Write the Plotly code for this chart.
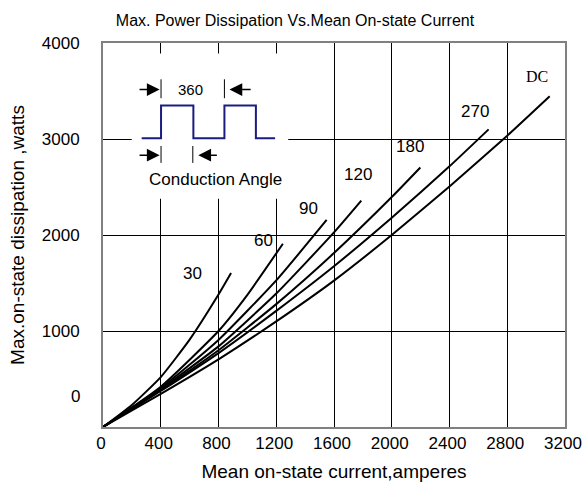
import plotly.graph_objects as go

# ---------------- data ----------------
curve_labels = ["30", "60", "90", "120", "180", "270", "DC"]

current_30 = [0, 200, 400, 600, 800, 887]
power_30 = [0, 230, 520, 910, 1380, 1604]

current_60 = [0, 400, 800, 1000, 1246]
power_60 = [0, 420, 1000, 1377, 1909]

current_90 = [0, 400, 800, 1200, 1549]
power_90 = [0, 405, 907, 1527, 2157]

current_120 = [0, 400, 800, 1200, 1600, 1789]
power_120 = [0, 395, 840, 1390, 2027, 2358]

current_180 = [0, 400, 800, 1200, 1600, 2000, 2198]
power_180 = [0, 385, 800, 1280, 1812, 2395, 2703]

current_270 = [0, 400, 800, 1200, 1600, 2000, 2400, 2671]
power_270 = [0, 375, 770, 1210, 1675, 2180, 2715, 3100]

current_dc = [0, 400, 800, 1200, 1600, 2000, 2400, 2800, 3094]
power_dc = [0, 345, 705, 1100, 1525, 2000, 2505, 3035, 3446]

label_current = [617, 1109, 1421, 1766, 2128, 2579, 3006]
label_power = [1600, 1943, 2275, 2627, 2917, 3283, 3653]

x_ticks = [0, 400, 800, 1200, 1600, 2000, 2400, 2800, 3200]
y_ticks = [1000, 2000, 3000, 4000]

# inset (conduction-angle sketch), in axis units
wave_x = [268, 402, 402, 626, 626, 841, 841, 1059, 1059, 1192]
wave_y = [3007, 3007, 3349, 3349, 3007, 3007, 3349, 3349, 3007, 3007]

series_x = [current_30, current_60, current_90, current_120, current_180, current_270, current_dc]
series_y = [power_30, power_60, power_90, power_120, power_180, power_270, power_dc]

SANS = "Liberation Sans, Arial, sans-serif"
SERIF = "Liberation Serif, Times New Roman, serif"

W, H = 585, 485

fig = go.Figure()
for xs, ys, name in zip(series_x, series_y, curve_labels):
    fig.add_trace(go.Scatter(x=xs, y=ys, mode="lines", name=name,
                             line=dict(color="black", width=2, shape="spline", smoothing=0.5),
                             showlegend=False, hoverinfo="skip"))

annotations = []
for lab, lx, ly in zip(curve_labels, label_current, label_power):
    annotations.append(dict(x=lx, y=ly, text=lab, showarrow=False,
                            font=dict(family=SERIF if lab == "DC" else SANS,
                                      size=16 if lab == "DC" else 17, color="black")))

# y "0" label (drawn above the axis origin in the reference)
annotations.append(dict(x=-0.045, xref="paper", y=316, yref="y", text="0", showarrow=False,
                        xanchor="right", font=dict(family=SANS, size=17, color="black")))

# inset texts
annotations.append(dict(x=603, y=3515, text="360", showarrow=False,
                        font=dict(family=SANS, size=15, color="black")))
annotations.append(dict(x=776, y=2582, text="Conduction Angle", showarrow=False,
                        font=dict(family=SANS, size=17, color="black")))

# inset arrows
for tip, tail, yy in [(392, 243, 3515), (876, 1033, 3515), (392, 243, 2831), (660, 799, 2831)]:
    annotations.append(dict(x=tip, y=yy, ax=tail, ay=yy, xref="x", yref="y", axref="x", ayref="y",
                            text="", showarrow=True, arrowhead=2, arrowsize=1.7,
                            arrowwidth=1.5, arrowcolor="black"))

shapes = [
    dict(type="rect", x0=199, x1=1283, y0=2378, y1=3891, layer="above",
         fillcolor="white", line=dict(width=0)),
]
wave_path = "M " + " L ".join(f"{a},{b}" for a, b in zip(wave_x, wave_y))
shapes.append(dict(type="path", path=wave_path, layer="above",
                   line=dict(color="#1c1c80", width=2)))
for bx, y0, y1 in [(402, 3425, 3622), (841, 3425, 3622), (402, 2751, 2927), (622, 2751, 2927)]:
    shapes.append(dict(type="line", x0=bx, x1=bx, y0=y0, y1=y1, layer="above",
                       line=dict(color="black", width=1)))

fig.update_layout(
    width=W, height=H,
    margin=dict(l=103, r=20, t=43, b=58, autoexpand=False),
    paper_bgcolor="white", plot_bgcolor="white",
    title=dict(text="Max. Power Dissipation Vs.Mean On-state Current",
               x=295 / W, xanchor="center", y=1 - 20 / H, yanchor="middle",
               font=dict(family=SANS, size=16, color="black")),
    xaxis=dict(range=[0, 3200], tickvals=x_ticks, ticktext=[str(v) for v in x_ticks],
               showgrid=True, gridcolor="black", gridwidth=1,
               showline=True, linecolor="#808080", linewidth=2, mirror=True,
               ticks="", zeroline=False, automargin=False, ticklabelshift=-2,
               tickfont=dict(family=SANS, size=17, color="black"),
               title=dict(text="Mean on-state current,amperes", standoff=12,
                          font=dict(family=SANS, size=19, color="black"))),
    yaxis=dict(range=[0, 4000], tickvals=y_ticks, ticktext=[str(v) for v in y_ticks],
               showgrid=True, gridcolor="black", gridwidth=1,
               showline=True, linecolor="#808080", linewidth=2, mirror=True,
               ticks="", zeroline=False, ticklabelstandoff=18, automargin=False,
               tickfont=dict(family=SANS, size=17, color="black"),
               title=dict(text="Max.on-state dissipation ,watts", standoff=12,
                          font=dict(family=SANS, size=19, color="black"))),
    annotations=annotations,
    shapes=shapes,
)

# remove the browser's default 8px body margin so the figure fills the window exactly
fig.write_html("out.html",
               config={"displayModeBar": False},
               post_script="document.body.style.margin='0';document.body.style.overflow='hidden';")
